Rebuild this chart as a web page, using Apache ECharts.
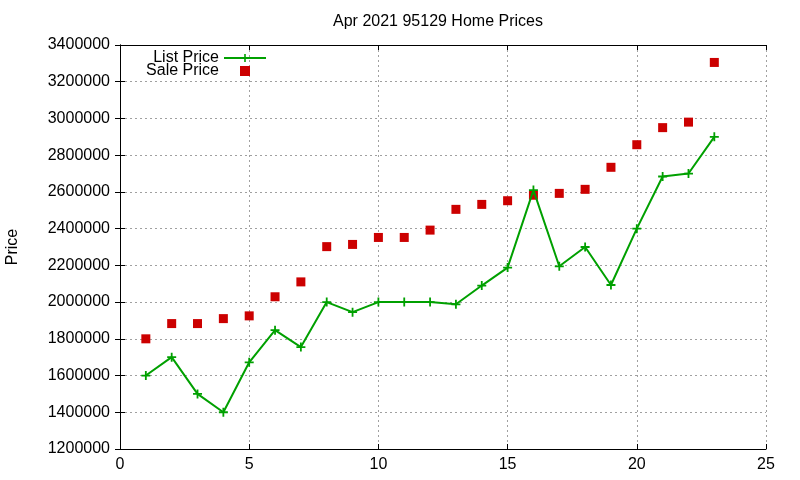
<!DOCTYPE html>
<html>
<head>
<meta charset="utf-8">
<script src="https://cdn.jsdelivr.net/npm/echarts@6/dist/echarts.min.js"></script>
<style>
  html, body { margin: 0; padding: 0; background: #fff; }
  #chart { width: 800px; height: 480px; }
</style>
</head>
<body>
<div id="chart"></div>
<script>
const months = [1, 2, 3, 4, 5, 6, 7, 8, 9, 10, 11, 12, 13, 14, 15, 16, 17, 18, 19, 20, 21, 22, 23];

const listPrice = [1600000, 1700000, 1500000, 1400000, 1672000, 1847000, 1755000, 2000000,
  1945000, 2000000, 2000000, 2000000, 1988000, 2090000, 2188000, 2610000, 2195000,
  2300000, 2093000, 2400000, 2684000, 2700000, 2900000];

const salePrice = [1800000, 1883000, 1883000, 1910000, 1925000, 2029000, 2110000, 2302000,
  2314000, 2352000, 2352000, 2392000, 2505000, 2532000, 2552000, 2582000, 2592000,
  2614000, 2734000, 2857000, 2950000, 2980000, 3305000];

const FONT = 'Liberation Sans, Arial, sans-serif';
const PLUS = 'path://M4,0H6V4H10V6H6V10H4V6H0V4H4Z';
const SQUARE = 'path://M0,0H10V10H0Z';

const chart = echarts.init(document.getElementById('chart'), null, { renderer: 'canvas' });

const gridLine = { show: true, lineStyle: { color: '#a0a0a0', type: [2, 3], width: 1 } };
const tickIn = { show: true, inside: true, length: 5, lineStyle: { color: '#000' } };
const axisLine = { show: true, lineStyle: { color: '#000', width: 1 } };
const label = { color: '#000', fontSize: 16, fontFamily: FONT };

const option = {
  animation: false,
  backgroundColor: '#fff',
  title: {
    text: 'Apr 2021 95129 Home Prices',
    left: 433,
    textAlign: 'center',
    top: 9,
    textStyle: { fontSize: 16, fontWeight: 'normal', color: '#000', fontFamily: FONT }
  },
  legend: {
    orient: 'vertical',
    right: 528,
    top: 45,
    align: 'right',
    itemWidth: 42,
    itemHeight: 10,
    itemGap: -3,
    symbolKeepAspect: true,
    textStyle: { fontSize: 16, color: '#000', fontFamily: FONT, lineHeight: 14 },
    data: [
      { name: 'List Price' },
      { name: 'Sale Price', icon: SQUARE }
    ]
  },
  grid: { left: 120, right: 34, top: 45, bottom: 31, outerBoundsMode: 'none' },
  xAxis: [{
    type: 'value',
    min: 0,
    max: 25,
    interval: 5,
    axisLine: axisLine,
    axisTick: tickIn,
    axisLabel: Object.assign({ margin: 8 }, label),
    splitLine: gridLine
  }, {
    type: 'value',
    position: 'top',
    min: 0,
    max: 25,
    interval: 5,
    axisLine: axisLine,
    axisTick: tickIn,
    axisLabel: { show: false },
    splitLine: { show: false }
  }],
  yAxis: [{
    type: 'value',
    min: 1200000,
    max: 3400000,
    interval: 200000,
    name: 'Price',
    nameLocation: 'middle',
    nameGap: 99,
    nameTextStyle: { fontSize: 16, color: '#000', fontFamily: FONT },
    axisLine: axisLine,
    axisTick: tickIn,
    axisLabel: Object.assign({ margin: 10, formatter: v => String(v) }, label),
    splitLine: gridLine
  }, {
    type: 'value',
    position: 'right',
    min: 1200000,
    max: 3400000,
    interval: 200000,
    axisLine: axisLine,
    axisTick: tickIn,
    axisLabel: { show: false },
    splitLine: { show: false }
  }],
  series: [{
    name: 'List Price',
    type: 'line',
    data: months.map((m, i) => [m, listPrice[i]]),
    symbol: PLUS,
    symbolSize: 9,
    showAllSymbol: true,
    color: '#00a000',
    lineStyle: { width: 2, color: '#00a000' },
    itemStyle: { color: '#00a000' },
    z: 3
  }, {
    name: 'Sale Price',
    type: 'scatter',
    data: months.map((m, i) => [m, salePrice[i]]),
    symbol: 'rect',
    symbolSize: 9,
    color: '#cc0000',
    itemStyle: { color: '#cc0000', opacity: 1 },
    z: 2
  }]
};

chart.setOption(option);
</script>
</body>
</html>
